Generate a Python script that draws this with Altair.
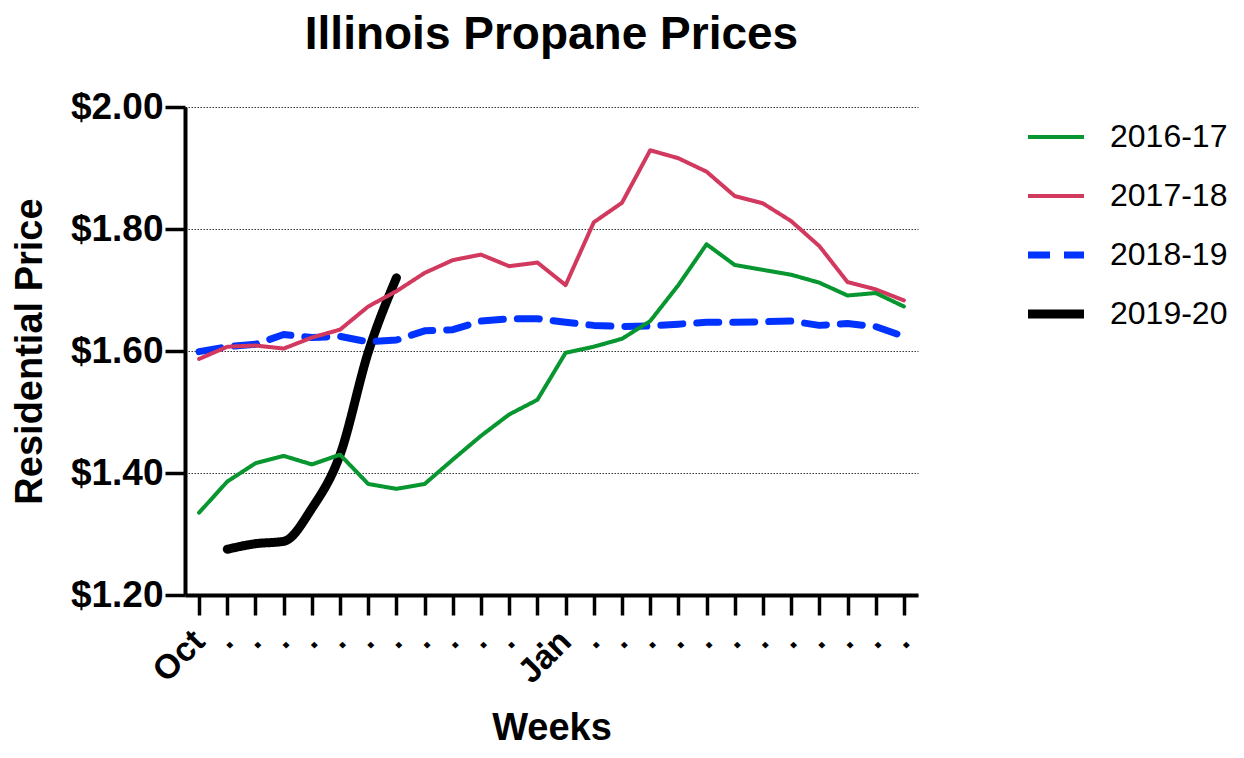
import json
import altair as alt
import pandas as pd

# ---- data ----
weeks = list(range(26))
seasons = ["2016-17", "2017-18", "2018-19", "2019-20"]
colors = ["#07962F", "#D1395F", "#0033FF", "#000000"]
line_widths = [4, 4, 7, 9]
dashes = [[1, 0], [1, 0], [22, 14], [1, 0]]

p_2016 = [1.335, 1.386, 1.416, 1.428, 1.414, 1.430, 1.382, 1.374, 1.382, 1.422,
          1.461, 1.496, 1.520, 1.597, 1.607, 1.620, 1.649, 1.708, 1.775, 1.741,
          1.733, 1.725, 1.712, 1.691, 1.695, 1.673]
p_2017 = [1.587, 1.607, 1.609, 1.604, 1.622, 1.635, 1.673, 1.698, 1.728, 1.749,
          1.758, 1.739, 1.745, 1.708, 1.811, 1.843, 1.929, 1.916, 1.894, 1.854,
          1.842, 1.813, 1.772, 1.713, 1.701, 1.683]
p_2018 = [1.599, 1.607, 1.611, 1.627, 1.622, 1.624, 1.615, 1.618, 1.633, 1.635,
          1.649, 1.653, 1.653, 1.647, 1.642, 1.640, 1.641, 1.644, 1.647, 1.647,
          1.648, 1.649, 1.642, 1.645, 1.640, 1.624]
weeks_2019 = [1, 2, 3, 4, 5, 6, 7]
p_2019 = [1.275, 1.284, 1.288, 1.342, 1.430, 1.598, 1.720]

x_labels = ["Oct"] + ["."] * 12 + ["Jan"] + ["."] * 12
y_ticks = [1.2, 1.4, 1.6, 1.8, 2.0]

rows = []
for k, (wk, vals) in enumerate([(weeks, p_2016), (weeks, p_2017),
                                (weeks, p_2018), (weeks_2019, p_2019)]):
    for w, v in zip(wk, vals):
        rows.append({"week": w, "price": v, "season": seasons[k], "sidx": k})
df = pd.DataFrame(rows)

FONT = "Liberation Sans"

x_enc = alt.X(
    "week:Q",
    scale=alt.Scale(domain=[-0.5, 25.5], nice=False, zero=False),
    axis=alt.Axis(
        values=weeks,
        labelExpr=json.dumps(x_labels) + "[datum.value]",
        labelAngle=-45, labelAlign="right", labelBaseline="middle",
        labelFontSize=34, labelFontWeight="bold", labelFont=FONT,
        labelPadding=21, labelColor="black", labelOverlap=False, labelFlush=False,
        tickSize=20, tickWidth=3.5, tickColor="black",
        domainWidth=4, domainColor="black", grid=False,
        title="Weeks", titleFontSize=38, titleFont=FONT, titleFontWeight="bold",
        titleColor="black", titlePadding=20,
    ),
)
y_enc = alt.Y(
    "price:Q",
    scale=alt.Scale(domain=[1.2, 2.0], nice=False, zero=False),
    axis=alt.Axis(
        values=y_ticks, format="$.2f",
        labelFontSize=37, labelFontWeight="bold", labelFont=FONT, labelColor="black",
        labelPadding=2,
        tickSize=20, tickWidth=3.5, tickColor="black",
        domainWidth=4, domainColor="black",
        grid=True, gridDash=[1.5, 1.5], gridColor="#333333", gridWidth=1,
        title="Residential Price", titleFontSize=38, titleFont=FONT,
        titleFontWeight="bold", titleColor="black", titlePadding=21,
    ),
)

legend = alt.Legend(
    title=None, orient="none", legendX=838.5, legendY=1, columns=1,
    symbolType="stroke", symbolSize=3136, clipHeight=58,
    labelExpr=json.dumps(seasons) + "[datum.index]",
    labelFontSize=32, labelFont=FONT, labelColor="black", labelOffset=21.5,
    rowPadding=1, padding=0,
)

thresholds = [0.5, 1.5, 2.5]
color_enc = alt.Color("sidx:Q", scale=alt.Scale(type="threshold", domain=thresholds, range=colors),
                      legend=legend)
dash_enc = alt.StrokeDash("sidx:Q", scale=alt.Scale(type="threshold", domain=thresholds, range=dashes),
                          legend=legend)
width_enc = alt.StrokeWidth("sidx:Q", scale=alt.Scale(type="threshold", domain=thresholds, range=line_widths),
                            legend=legend)

base = alt.Chart(df).encode(x=x_enc, y=y_enc, color=color_enc,
                            strokeDash=dash_enc, strokeWidth=width_enc)

layers = []
for i in [3, 2, 1, 0]:
    layers.append(
        base.transform_filter(alt.datum.sidx == i)
        .mark_line(interpolate="monotone" if i == 3 else "linear",
                   strokeCap="round", strokeJoin="round")
    )

chart = alt.layer(*layers).properties(
    width=733, height=488,
    padding={"left": 177, "top": 99, "right": 310, "bottom": 153},
    autosize=alt.AutoSizeParams(type="none"),
    title=alt.TitleParams("Illinois Propane Prices", fontSize=46, fontWeight="bold",
                          font=FONT, color="black", anchor="middle", offset=29),
).configure_view(stroke=None)

chart.save("out.html", embed_options={"renderer": "svg", "actions": False})
